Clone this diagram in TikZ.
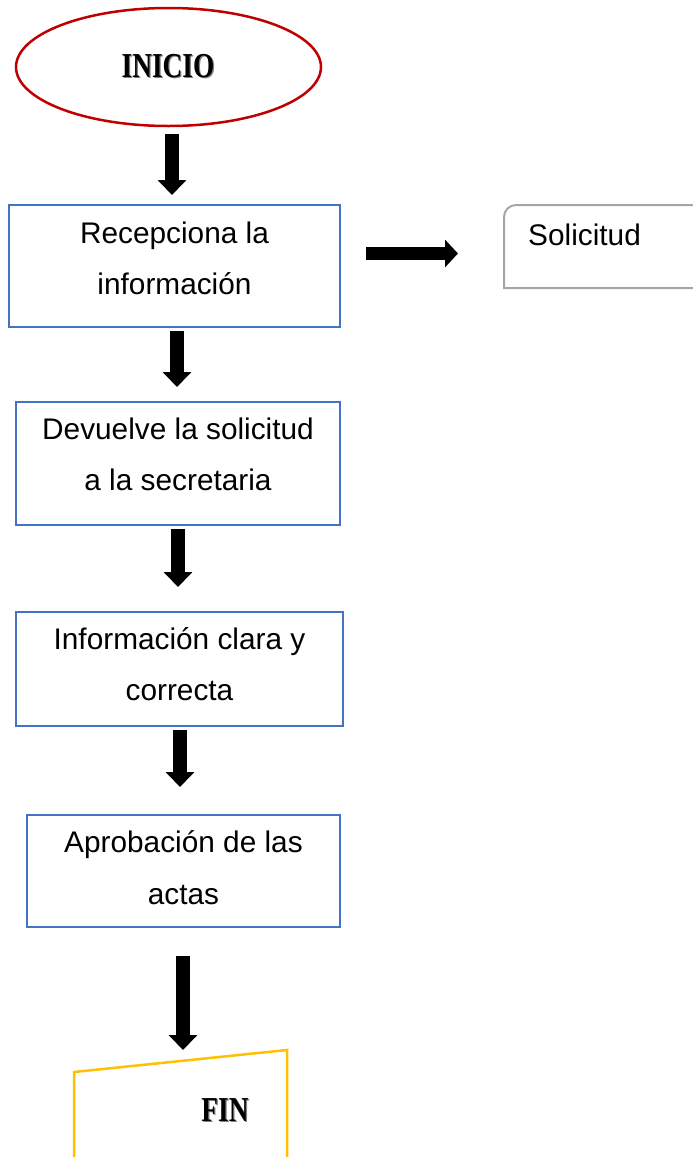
\documentclass[tikz,border=0pt]{standalone}
\usepackage{fontspec}
\setmainfont{Liberation Sans}
\newfontfamily\titlefont{Liberation Serif}
\usepackage{graphicx}
\usetikzlibrary{arrows.meta,shapes.geometric}
\definecolor{boxblue}{HTML}{4472C4}
\definecolor{inired}{HTML}{C00000}
\definecolor{solgrey}{HTML}{A5A5A5}
\definecolor{fingold}{HTML}{FFC000}
\newcommand{\shadowedtitle}[1]{\scalebox{0.78}[1]{\makebox[0pt][l]{\hspace{1.6pt}\raisebox{-1.6pt}{\textcolor{gray}{#1}}}#1}}
\tikzset{
  procbox/.style={draw=boxblue,line width=2pt,rectangle,inner sep=0pt},
  bodytext/.style={font=\fontsize{29.8}{36}\selectfont,inner sep=0pt,anchor=base},
  titletext/.style={font=\titlefont\bfseries\fontsize{35}{40}\selectfont,inner sep=0pt,anchor=base},
  downarrow/.style={line width=14pt,-{Triangle[width=28pt,length=15pt]}},
  rightarrow/.style={line width=13pt,-{Triangle[width=27pt,length=13pt]}},
}
\begin{document}
\begin{tikzpicture}[x=1pt,y=1pt]
\useasboundingbox (0,0) rectangle (693,-1157);

% start ellipse
\node[ellipse,draw=inired,line width=2.5pt,minimum width=305pt,minimum height=118pt,inner sep=0pt] (ini) at (168.5,-67) {};
\node[titletext] (initxt) at (168,-77) {\shadowedtitle{INICIO}};

% process boxes
\node[procbox,minimum width=331pt,minimum height=122pt] (b1) at (174.5,-266) {};
\node[bodytext] (b1l1) at (174.5,-243) {Recepciona la};
\node[bodytext] (b1l2) at (174.5,-294) {información};

\node[procbox,minimum width=324pt,minimum height=123pt] (b2) at (178,-463.5) {};
\node[bodytext] (b2l1) at (178,-439) {Devuelve la solicitud};
\node[bodytext] (b2l2) at (178,-490) {a la secretaria};

\node[procbox,minimum width=327pt,minimum height=114pt] (b3) at (179.5,-669) {};
\node[bodytext] (b3l1) at (179.5,-649) {Información clara y};
\node[bodytext] (b3l2) at (179.5,-700) {correcta};

\node[procbox,minimum width=313pt,minimum height=112pt] (b4) at (183.5,-871) {};
\node[bodytext] (b4l1) at (183.5,-852) {Aprobación de las};
\node[bodytext] (b4l2) at (183.5,-904) {actas};

% Solicitud document (right side, cut by the page edge)
\draw[solgrey,line width=2pt] (700,-205) [rounded corners=12pt] -- (504,-205) [sharp corners] -- (504,-288) -- (700,-288);
\node[bodytext,anchor=base west] (sol) at (528,-245) {Solicitud};
\coordinate (solin) at (458,-253.5);

% FIN manual-input shape (cut by the page edge)
\draw[fingold,line width=2.5pt] (74,-1165) -- (74,-1072) -- (287,-1050) -- (287,-1165);
\node[titletext] (fin) at (225,-1121) {\shadowedtitle{FIN}};
\coordinate (finin) at (183,-1050);

% connectors
\draw[downarrow] ([xshift=3.5pt,yshift=-7pt]ini.south) -- ([xshift=-2.5pt,yshift=9pt]b1.north);
\draw[downarrow] ([xshift=2.5pt,yshift=-3pt]b1.south) -- ([xshift=-1pt,yshift=14pt]b2.north);
\draw[downarrow] ([yshift=-3pt]b2.south) -- ([xshift=-1.5pt,yshift=24pt]b3.north);
\draw[downarrow] ([xshift=0.5pt,yshift=-3pt]b3.south) -- ([xshift=-3.5pt,yshift=27pt]b4.north);
\draw[downarrow] ([xshift=-0.5pt,yshift=-28pt]b4.south) -- (finin);
\draw[rightarrow] ([xshift=25pt,yshift=12.5pt]b1.east) -- (solin);
\end{tikzpicture}
\end{document}
